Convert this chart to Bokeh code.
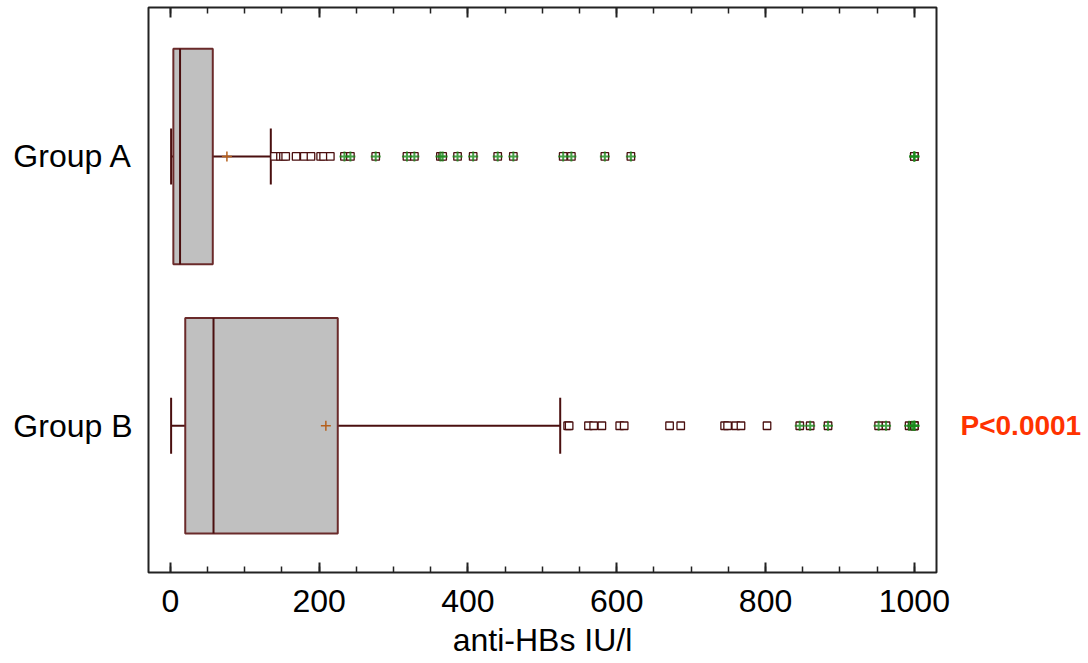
from bokeh.plotting import figure
from bokeh.models import (LinearAxis, SingleIntervalTicker, FixedTicker, Range1d,
                          ColumnDataSource, CustomJSTickFormatter)
from bokeh.embed import file_html
from bokeh.resources import INLINE

# ---- data ----
groups = ["Group A", "Group B"]
ypos = [2, 1]
q1 = [4, 20]
median = [13, 58]
q3 = [57, 225]
whisk_lo = [1, 1]
whisk_hi = [135, 524]
mean = [76, 209]

outliers_a = [140, 148, 152, 155, 169, 180, 189, 202, 206, 215, 234, 242, 276,
              318, 328, 363, 366, 386, 407, 440, 461, 528, 539, 584, 619,
              1000, 1000, 1000]
outliers_b = [534, 536, 562, 569, 580, 604, 610, 671, 686, 745, 749, 760, 767,
              802, 846, 860, 884, 952, 962, 993, 997, 1000, 1000, 1000]

x_ticks_interval = 200
p_text = "P<0.0001"
p_group = 1  # y position of Group B
x_label = "anti-HBs IU/l"

# ---- styles ----
FONT = "Liberation Sans"
BOX_FILL = "#c0c0c0"
BOX_LINE = "#6a2a2a"
DARK = "#4a0f0f"
FRAME = "#222222"

p = figure(width=1084, height=660, output_backend="svg", toolbar_location=None,
           x_range=Range1d(-29.4, 1029.8), y_range=Range1d(0.455, 2.553),
           x_axis_location=None, y_axis_location=None,
           min_border_left=148, min_border_right=144, min_border_top=7,
           min_border_bottom=88)
p.xgrid.visible = False
p.ygrid.visible = False
p.outline_line_color = FRAME
p.outline_line_width = 2
p.background_fill_color = "white"
p.border_fill_color = "white"

half_box = 0.4
half_cap = 0.104
src = ColumnDataSource(dict(
    y=ypos, q1=q1, med=median, q3=q3, lo=whisk_lo, hi=whisk_hi, mean=mean,
    ytop=[v + half_box for v in ypos], ybot=[v - half_box for v in ypos],
    ctop=[v + half_cap for v in ypos], cbot=[v - half_cap for v in ypos],
))

# whiskers
p.segment(x0="lo", y0="y", x1="q1", y1="y", source=src, line_color=DARK, line_width=2)
p.segment(x0="q3", y0="y", x1="hi", y1="y", source=src, line_color=DARK, line_width=2)
p.segment(x0="lo", y0="cbot", x1="lo", y1="ctop", source=src, line_color=DARK, line_width=2)
p.segment(x0="hi", y0="cbot", x1="hi", y1="ctop", source=src, line_color=DARK, line_width=2)
# boxes
p.hbar(y="y", left="q1", right="q3", height=2 * half_box, source=src,
       fill_color=BOX_FILL, line_color=BOX_LINE, line_width=2)
p.segment(x0="med", y0="ybot", x1="med", y1="ytop", source=src, line_color=DARK, line_width=2)
# mean
p.scatter(x="mean", y="y", source=src, marker="cross", size=10,
          line_color="#b5601c", line_width=1.5)

# outliers
for vals, y, lo_q, hi_q in [(outliers_a, ypos[0], q1[0], q3[0]),
                            (outliers_b, ypos[1], q1[1], q3[1])]:
    thr = hi_q + 3 * (hi_q - lo_q)
    far = [v for v in vals if v > thr]
    p.scatter(x=vals, y=[y] * len(vals), marker="square", size=7.5,
              fill_color="white", line_color=DARK, line_width=1.3)
    p.scatter(x=far, y=[y] * len(far), marker="cross", size=10,
              line_color="#1a8a1a", line_width=2, line_alpha=0.8)

# bottom / top axes
xb = LinearAxis(ticker=SingleIntervalTicker(interval=x_ticks_interval, num_minor_ticks=4),
                axis_label=x_label)
xt = LinearAxis(ticker=SingleIntervalTicker(interval=x_ticks_interval, num_minor_ticks=4),
                formatter=CustomJSTickFormatter(code="return ''"))
for ax in (xb, xt):
    ax.axis_line_color = None
    ax.major_tick_in = 10
    ax.major_tick_out = 0
    ax.minor_tick_in = 6
    ax.minor_tick_out = 0
    ax.major_tick_line_color = FRAME
    ax.minor_tick_line_color = FRAME
    ax.major_tick_line_width = 2
    ax.minor_tick_line_width = 1.5
xb.major_label_text_font = FONT
xb.major_label_text_font_size = "32px"
xb.major_label_text_color = "black"
xb.major_label_standoff = 17
xb.axis_label_text_font = FONT
xb.axis_label_text_font_size = "32px"
xb.axis_label_text_font_style = "normal"
xb.axis_label_text_color = "black"
xb.axis_label_standoff = 7
xt.major_label_standoff = 0
p.add_layout(xb, "below")
p.add_layout(xt, "above")

# left axis with group labels
yl = LinearAxis(ticker=FixedTicker(ticks=ypos),
                major_label_overrides={v: g for v, g in zip(ypos, groups)})
yl.axis_line_color = None
yl.major_tick_line_color = None
yl.minor_tick_line_color = None
yl.major_label_text_font = FONT
yl.major_label_text_font_size = "32px"
yl.major_label_text_color = "black"
yl.major_label_standoff = 10
p.add_layout(yl, "left")

# right axis carrying the p-value
yr = LinearAxis(ticker=FixedTicker(ticks=[p_group]),
                major_label_overrides={p_group: p_text})
yr.axis_line_color = None
yr.major_tick_line_color = None
yr.minor_tick_line_color = None
yr.major_label_text_font = FONT
yr.major_label_text_font_size = "28px"
yr.major_label_text_font_style = "bold"
yr.major_label_text_color = "#ff3300"
yr.major_label_standoff = 18
p.add_layout(yr, "right")

open("out.html", "w").write(file_html(p, INLINE))
